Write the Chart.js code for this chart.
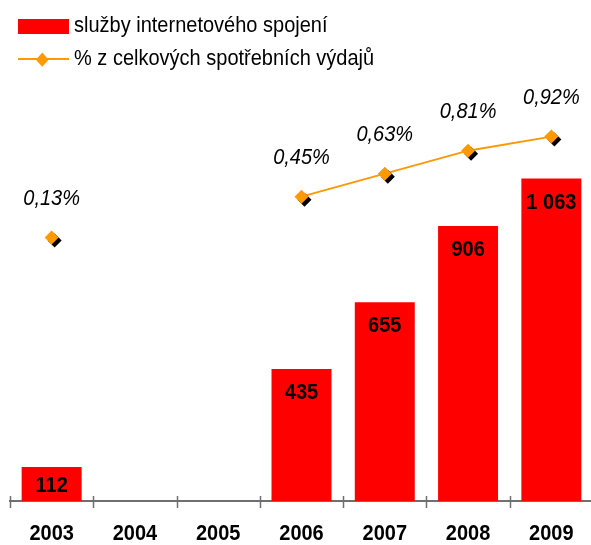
<!DOCTYPE html>
<html>
<head>
<meta charset="utf-8">
<script src="https://cdn.jsdelivr.net/npm/chart.js@4/dist/chart.umd.min.js"></script>
<style>
  html, body { margin: 0; padding: 0; background: #fff; overflow: hidden; }
  #wrap { position: relative; width: 600px; height: 545px; }
  #chart { position: absolute; left: 0; top: 0; }
  .legend { position: absolute; left: 0; top: 0; font-family: 'Liberation Sans', Arial, sans-serif; font-size: 20px; color: #000; }
  .leg-box { position: absolute; left: 18px; top: 19px; width: 51px; height: 15px; background: #ff0000; }
  .leg-line { position: absolute; left: 18px; top: 58px; width: 51px; height: 2px; background: #ff9900; }
  .leg-dia { position: absolute; left: 38px; top: 54.5px; width: 8.5px; height: 8.5px; background: #ff9900; transform: scaleY(1.12) rotate(45deg); }
  .leg-text { position: absolute; left: 74px; white-space: nowrap; line-height: 20px; transform: scaleY(1.1); transform-origin: 0 70%; }
</style>
</head>
<body>
<div id="wrap">
  <canvas id="chart" width="600" height="545"></canvas>
  <div class="legend">
    <div class="leg-box"></div>
    <div class="leg-text" style="top:15px">služby internetového spojení</div>
    <div class="leg-line"></div>
    <div class="leg-dia"></div>
    <div class="leg-text" style="top:48px">% z celkových spotřebních výdajů</div>
  </div>
</div>
<script>
// data
const years = ['2003', '2004', '2005', '2006', '2007', '2008', '2009'];
const internetSpend = [112, null, null, 435, 655, 906, 1063];
const shareOfSpend = [0.13, null, null, 0.45, 0.63, 0.81, 0.92];

const FONT = "'Liberation Sans', Arial, sans-serif";
const ORANGE = '#ff9900';
const STRETCH = 1.12; // text in the picture is a bit taller than wide

function fmtThousands(v) {
  return String(v).replace(/\B(?=(\d{3})+(?!\d))/g, ' ');
}

function fmtPct(v) {
  return v.toFixed(2).replace('.', ',') + '%';
}

function tallText(ctx, text, x, y) {
  ctx.save();
  ctx.translate(x, y);
  ctx.scale(1, STRETCH);
  ctx.fillText(text, 0, 0);
  ctx.restore();
}

/* black drop shadow behind the diamonds */
const shadowPlugin = {
  id: 'markerShadow',
  beforeDatasetDraw(chart, args) {
    if (args.index !== 0) return;
    const ctx = chart.ctx;
    ctx.save();
    ctx.shadowColor = '#000';
    ctx.shadowOffsetX = 3;
    ctx.shadowOffsetY = 3;
    ctx.shadowBlur = 0;
  },
  afterDatasetDraw(chart, args) {
    if (args.index !== 0) return;
    chart.ctx.restore();
  }
};

/* tick marks crossing the category axis + year labels */
const axisTicks = {
  id: 'axisTicks',
  afterDraw(chart) {
    const x = chart.scales.x;
    const ctx = chart.ctx;
    const step = (x.right - x.left) / years.length;
    ctx.save();
    ctx.strokeStyle = '#6f6f6f';
    ctx.lineWidth = 1.5;
    for (let i = 0; i <= years.length; i++) {
      const px = Math.round(x.left + i * step) + 0.5;
      ctx.beginPath();
      ctx.moveTo(px, x.top - 5);
      ctx.lineTo(px, x.top + 7);
      ctx.stroke();
    }
    ctx.fillStyle = '#000';
    ctx.textAlign = 'center';
    ctx.textBaseline = 'middle';
    ctx.font = 'bold 20px ' + FONT;
    years.forEach(function (yr, i) {
      tallText(ctx, yr, x.getPixelForValue(i), x.top + 33);
    });
    ctx.restore();
  }
};

/* value labels */
const valueLabels = {
  id: 'valueLabels',
  afterDatasetsDraw(chart) {
    const ctx = chart.ctx;
    ctx.save();
    ctx.fillStyle = '#000';
    ctx.textAlign = 'center';
    ctx.textBaseline = 'middle';

    const bars = chart.getDatasetMeta(2).data;
    ctx.font = 'bold 20px ' + FONT;
    bars.forEach(function (bar, i) {
      const v = internetSpend[i];
      if (v == null) return;
      const y = Math.min(bar.y + 24, bar.base - 15);
      tallText(ctx, fmtThousands(v), bar.x, y);
    });

    const pts = chart.getDatasetMeta(0).data;
    ctx.font = 'italic 20px ' + FONT;
    pts.forEach(function (p, i) {
      const v = shareOfSpend[i];
      if (v == null) return;
      tallText(ctx, fmtPct(v), p.x, p.y - 39);
    });
    ctx.restore();
  }
};

new Chart(document.getElementById('chart'), {
  type: 'bar',
  data: {
    labels: years,
    datasets: [
      {
        type: 'line',
        label: 'markers',
        data: shareOfSpend,
        yAxisID: 'y1',
        showLine: false,
        pointStyle: 'rectRot',
        pointRadius: 7,
        pointBackgroundColor: ORANGE,
        pointBorderColor: ORANGE,
        pointBorderWidth: 0
      },
      {
        type: 'line',
        label: '% z celkových spotřebních výdajů',
        data: shareOfSpend,
        yAxisID: 'y1',
        borderColor: ORANGE,
        borderWidth: 2,
        pointRadius: 0,
        spanGaps: false,
        fill: false
      },
      {
        label: 'služby internetového spojení',
        data: internetSpend,
        yAxisID: 'y',
        backgroundColor: '#ff0000',
        barPercentage: 0.72,
        categoryPercentage: 1
      }
    ]
  },
  options: {
    responsive: false,
    animation: false,
    layout: { padding: { left: 10, right: 4, top: 81, bottom: 0 } },
    plugins: {
      legend: { display: false },
      tooltip: { enabled: false }
    },
    scales: {
      x: {
        grid: { display: false, drawTicks: false },
        border: { display: true, color: '#6f6f6f', width: 2 },
        ticks: { display: false },
        afterFit: function (scale) { scale.height = 44; }
      },
      y: { display: false, min: 0, max: 1384 },
      y1: { display: false, min: -1.9335, max: 1.3555 }
    }
  },
  plugins: [shadowPlugin, axisTicks, valueLabels]
});
</script>
</body>
</html>
